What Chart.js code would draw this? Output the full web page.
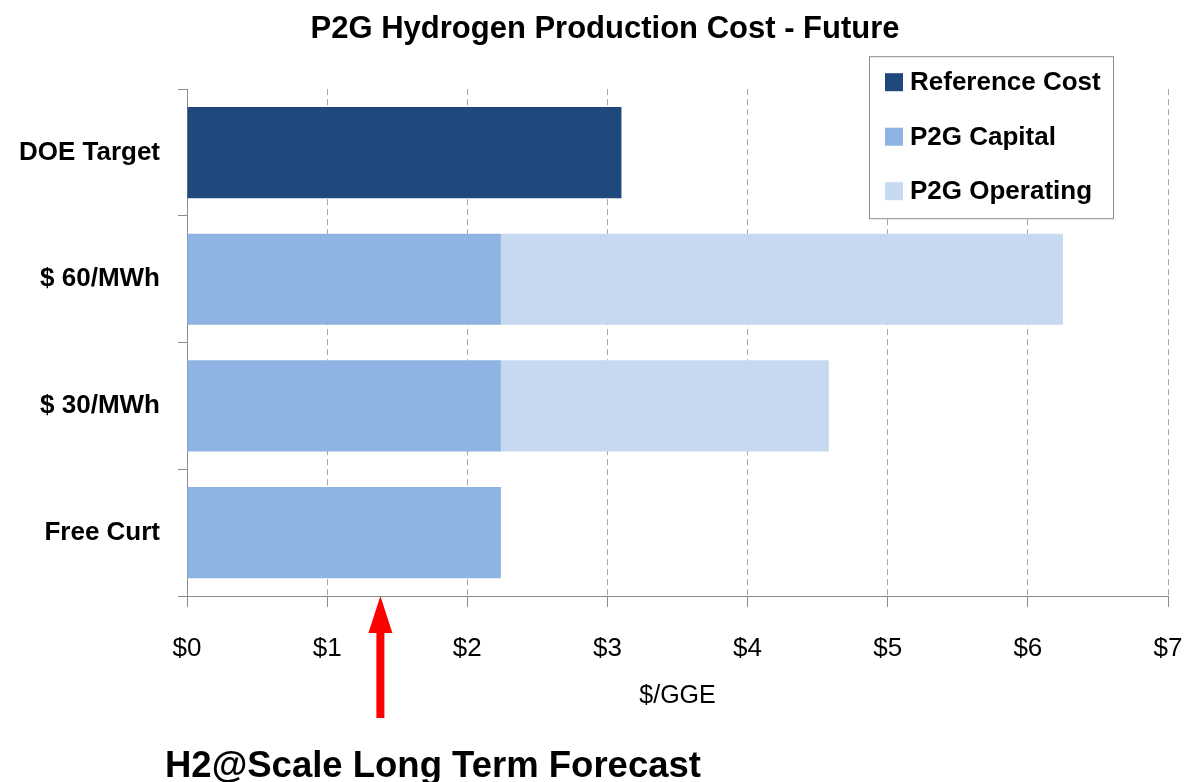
<!DOCTYPE html>
<html>
<head>
<meta charset="utf-8">
<title>P2G Hydrogen Production Cost - Future</title>
<script src="https://cdn.jsdelivr.net/npm/chart.js@4/dist/chart.umd.min.js"></script>
<style>
  html, body { margin: 0; padding: 0; background: #fff; }
  #wrap { width: 1186px; height: 782px; position: relative; }
</style>
</head>
<body>
<div id="wrap"><canvas id="costChart"></canvas></div>
<script>
// Data ($/GGE)
const categories = ["DOE Target", "$ 60/MWh", "$ 30/MWh", "Free Curt"];
const referenceCost = [3.10, null, null, null];
const p2gCapital = [null, 2.24, 2.24, 2.24];
const p2gOperating = [null, 4.01, 2.34, null];
const xTicks = [0, 1, 2, 3, 4, 5, 6, 7];
const forecastCost = 1.38;
const forecastLabel = "H2@Scale Long Term Forecast";

const FONT = "'Liberation Sans', Arial, sans-serif";
Chart.defaults.font.family = FONT;
Chart.defaults.color = "#000";

// nudge the title a bit right, the original is not centered on the canvas
const titleShift = {
  id: "titleShift",
  afterLayout(chart) {
    if (chart.titleBlock) {
      chart.titleBlock.left += 21;
      chart.titleBlock.right += 21;
    }
  }
};

// Legend box drawn over the top right corner of the plot
const legendBox = {
  id: "legendBox",
  afterDraw(chart) {
    const { ctx, chartArea } = chart;
    const w = 244, h = 162;
    const left = chartArea.right - 55 - w;
    const top = chartArea.top - 33;
    ctx.save();
    ctx.fillStyle = "#fff";
    ctx.fillRect(left, top, w, h);
    ctx.strokeStyle = "#8c8c8c";
    ctx.lineWidth = 1;
    ctx.strokeRect(left + 0.5, top + 0.5, w, h);
    ctx.font = "bold 26px " + FONT;
    ctx.textBaseline = "middle";
    chart.data.datasets.forEach((ds, i) => {
      const cy = top + 26 + i * 54.5;
      ctx.fillStyle = ds.backgroundColor;
      ctx.fillRect(left + 16, cy - 9, 18, 18);
      ctx.fillStyle = "#000";
      ctx.fillText(ds.label, left + 41, cy + 1);
    });
    ctx.restore();
  }
};

// Red arrow + caption under the axis
const forecastArrow = {
  id: "forecastArrow",
  afterDraw(chart) {
    const { ctx, chartArea, scales } = chart;
    const x = scales.x.getPixelForValue(forecastCost);
    const tip = chartArea.bottom;
    ctx.save();
    ctx.fillStyle = "#ff0000";
    ctx.beginPath();
    ctx.moveTo(x, tip);
    ctx.lineTo(x + 12, tip + 37);
    ctx.lineTo(x + 4, tip + 37);
    ctx.lineTo(x + 4, tip + 122);
    ctx.lineTo(x - 4, tip + 122);
    ctx.lineTo(x - 4, tip + 37);
    ctx.lineTo(x - 12, tip + 37);
    ctx.closePath();
    ctx.fill();
    ctx.fillStyle = "#000";
    ctx.font = "bold 36.5px " + FONT;
    ctx.textAlign = "left";
    ctx.textBaseline = "alphabetic";
    ctx.fillText(forecastLabel, 165, 777);
    ctx.restore();
  }
};

const ctx = document.getElementById("costChart").getContext("2d");

new Chart(ctx, {
  type: "bar",
  data: {
    labels: categories,
    datasets: [
      { label: "Reference Cost", data: referenceCost, backgroundColor: "#1F497D" },
      { label: "P2G Capital", data: p2gCapital, backgroundColor: "#8EB4E3" },
      { label: "P2G Operating", data: p2gOperating, backgroundColor: "#C6D9F1" },
    ],
  },
  options: {
    indexAxis: "y",
    responsive: true,
    maintainAspectRatio: false,
    animation: false,
    datasets: { bar: { categoryPercentage: 1, barPercentage: 0.72 } },
    layout: { padding: { left: 0, right: 18, top: 0, bottom: 71 } },
    plugins: {
      legend: { display: false },
      tooltip: { enabled: false },
      title: {
        display: true,
        text: "P2G Hydrogen Production Cost - Future",
        color: "#000",
        font: { size: 31, weight: "bold" },
        padding: { top: 11, bottom: 41 },
      },
    },
    scales: {
      x: {
        stacked: true,
        min: 0,
        max: 7,
        afterBuildTicks: (s) => { s.ticks = xTicks.map(v => ({ value: v })); },
        ticks: {
          callback: (v) => "$" + v,
          color: "#000",
          font: { size: 26 },
          padding: 26,
        },
        grid: { color: "#a6a6a6", tickColor: "#8c8c8c", tickLength: 11 },
        border: { color: "#8c8c8c", dash: [6, 4] },
        title: {
          display: true,
          text: "$/GGE",
          color: "#000",
          font: { size: 25 },
          padding: 0,
        },
        afterFit: (s) => { s.height = 115; s.paddingRight = 0; },
      },
      y: {
        stacked: true,
        ticks: { color: "#000", font: { size: 26, weight: "bold" }, padding: 18 },
        grid: { offset: true, drawOnChartArea: false, tickLength: 9, tickColor: "#8c8c8c" },
        border: { color: "#8c8c8c" },
        afterFit: (s) => { s.width = 187; },
      },
    },
  },
  plugins: [titleShift, legendBox, forecastArrow],
});
</script>
</body>
</html>
